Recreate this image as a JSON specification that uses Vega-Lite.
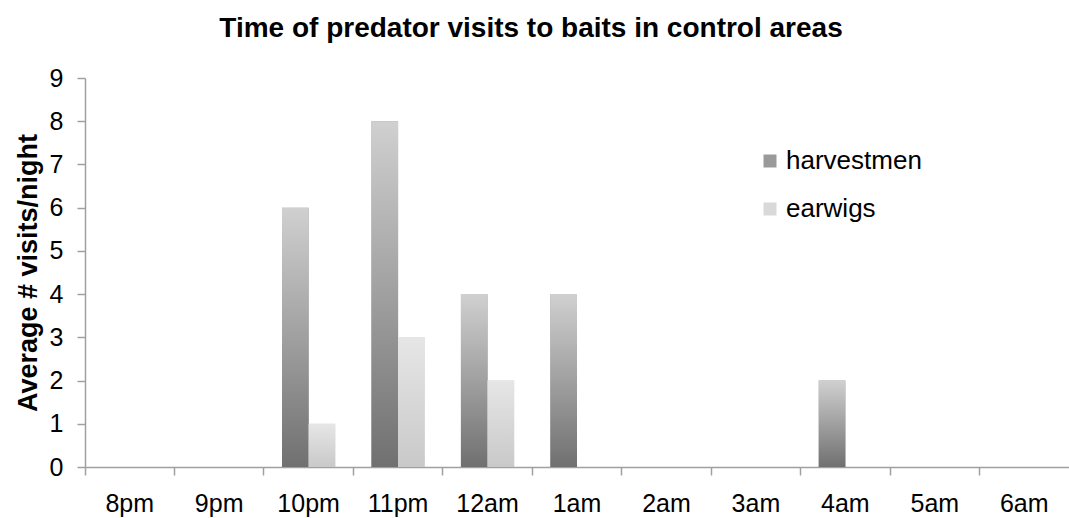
{
  "$schema": "https://vega.github.io/schema/vega-lite/v6.json",
  "autosize": "none",
  "width": 984,
  "height": 389,
  "padding": {"left": 85, "top": 78, "right": 0, "bottom": 51},
  "background": "white",
  "title": {
    "text": "Time of predator visits to baits in control areas",
    "font": "Liberation Sans",
    "fontSize": 28,
    "fontWeight": "bold",
    "color": "black",
    "anchor": "middle",
    "dx": -46,
    "offset": 23
  },
  "data": {
    "values": [
      {"time": "8pm", "series": "harvestmen", "value": 0},
      {"time": "9pm", "series": "harvestmen", "value": 0},
      {"time": "10pm", "series": "harvestmen", "value": 6},
      {"time": "11pm", "series": "harvestmen", "value": 8},
      {"time": "12am", "series": "harvestmen", "value": 4},
      {"time": "1am", "series": "harvestmen", "value": 4},
      {"time": "2am", "series": "harvestmen", "value": 0},
      {"time": "3am", "series": "harvestmen", "value": 0},
      {"time": "4am", "series": "harvestmen", "value": 2},
      {"time": "5am", "series": "harvestmen", "value": 0},
      {"time": "6am", "series": "harvestmen", "value": 0},
      {"time": "8pm", "series": "earwigs", "value": 0},
      {"time": "9pm", "series": "earwigs", "value": 0},
      {"time": "10pm", "series": "earwigs", "value": 1},
      {"time": "11pm", "series": "earwigs", "value": 3},
      {"time": "12am", "series": "earwigs", "value": 2},
      {"time": "1am", "series": "earwigs", "value": 0},
      {"time": "2am", "series": "earwigs", "value": 0},
      {"time": "3am", "series": "earwigs", "value": 0},
      {"time": "4am", "series": "earwigs", "value": 0},
      {"time": "5am", "series": "earwigs", "value": 0},
      {"time": "6am", "series": "earwigs", "value": 0}
    ]
  },
  "encoding": {
    "x": {
      "field": "time",
      "type": "nominal",
      "sort": ["8pm", "9pm", "10pm", "11pm", "12am", "1am", "2am", "3am", "4am", "5am", "6am"],
      "scale": {"paddingInner": 0, "paddingOuter": 0},
      "axis": {
        "title": null,
        "labelAngle": 0,
        "bandPosition": 0,
        "labelFont": "Liberation Sans",
        "labelFontSize": 25,
        "labelColor": "black",
        "labelPadding": 16,
        "tickSize": 8,
        "tickColor": "#a0a0a0",
        "domainColor": "#a0a0a0",
        "domainWidth": 1.5,
        "tickWidth": 1.5,
        "grid": false
      }
    },
    "xOffset": {
      "field": "series",
      "type": "nominal",
      "sort": ["harvestmen", "earwigs"],
      "scale": {"domain": ["harvestmen", "earwigs"], "paddingInner": 0, "paddingOuter": 0.68}
    },
    "y": {
      "field": "value",
      "type": "quantitative",
      "scale": {"domain": [0, 9], "nice": false},
      "axis": {
        "title": "Average # visits/night",
        "titleFont": "Liberation Sans",
        "titleFontSize": 27,
        "titleFontWeight": "bold",
        "titleColor": "black",
        "titlePadding": 7,
        "values": [0, 1, 2, 3, 4, 5, 6, 7, 8, 9],
        "labelFont": "Liberation Sans",
        "labelFontSize": 25,
        "labelColor": "black",
        "labelPadding": 14,
        "tickSize": 8,
        "tickColor": "#a0a0a0",
        "domainColor": "#a0a0a0",
        "domainWidth": 1.5,
        "tickWidth": 1.5,
        "grid": false
      }
    }
  },
  "layer": [
    {
      "mark": {"type": "bar"},
      "encoding": {
        "color": {
          "field": "series",
          "type": "nominal",
          "sort": ["harvestmen", "earwigs"],
          "scale": {"domain": ["harvestmen", "earwigs"], "range": ["#9a9a9a", "#d9d9d9"]},
          "legend": {
            "title": null,
            "orient": "none",
            "legendX": 672,
            "legendY": 70,
            "symbolType": "square",
            "symbolSize": 169,
            "symbolStrokeWidth": 0,
            "symbolOpacity": 1,
            "labelFont": "Liberation Sans",
            "labelFontSize": 26,
            "labelColor": "black",
            "labelOffset": 3,
            "rowPadding": 22,
            "padding": 0,
            "encoding": {
              "symbols": {
                "fill": {"value": {"expr": "datum.value === 'harvestmen' ? {gradient: 'linear', x1: 0, y1: 1, x2: 0, y2: 0, stops: [{offset: 0, color: '#707070'}, {offset: 1, color: '#d0d0d0'}]} : {gradient: 'linear', x1: 0, y1: 1, x2: 0, y2: 0, stops: [{offset: 0, color: '#c9c9c9'}, {offset: 1, color: '#e6e6e6'}]}"}}
              }
            }
          }
        }
      }
    },
    {
      "transform": [{"filter": "datum.series === 'harvestmen'"}],
      "mark": {
        "type": "bar",
        "color": {"gradient": "linear", "x1": 0, "y1": 1, "x2": 0, "y2": 0, "stops": [{"offset": 0, "color": "#707070"}, {"offset": 1, "color": "#d0d0d0"}]}
      }
    },
    {
      "transform": [{"filter": "datum.series === 'earwigs'"}],
      "mark": {
        "type": "bar",
        "color": {"gradient": "linear", "x1": 0, "y1": 1, "x2": 0, "y2": 0, "stops": [{"offset": 0, "color": "#c9c9c9"}, {"offset": 1, "color": "#e6e6e6"}]}
      }
    }
  ],
  "config": {"view": {"stroke": null}}
}
